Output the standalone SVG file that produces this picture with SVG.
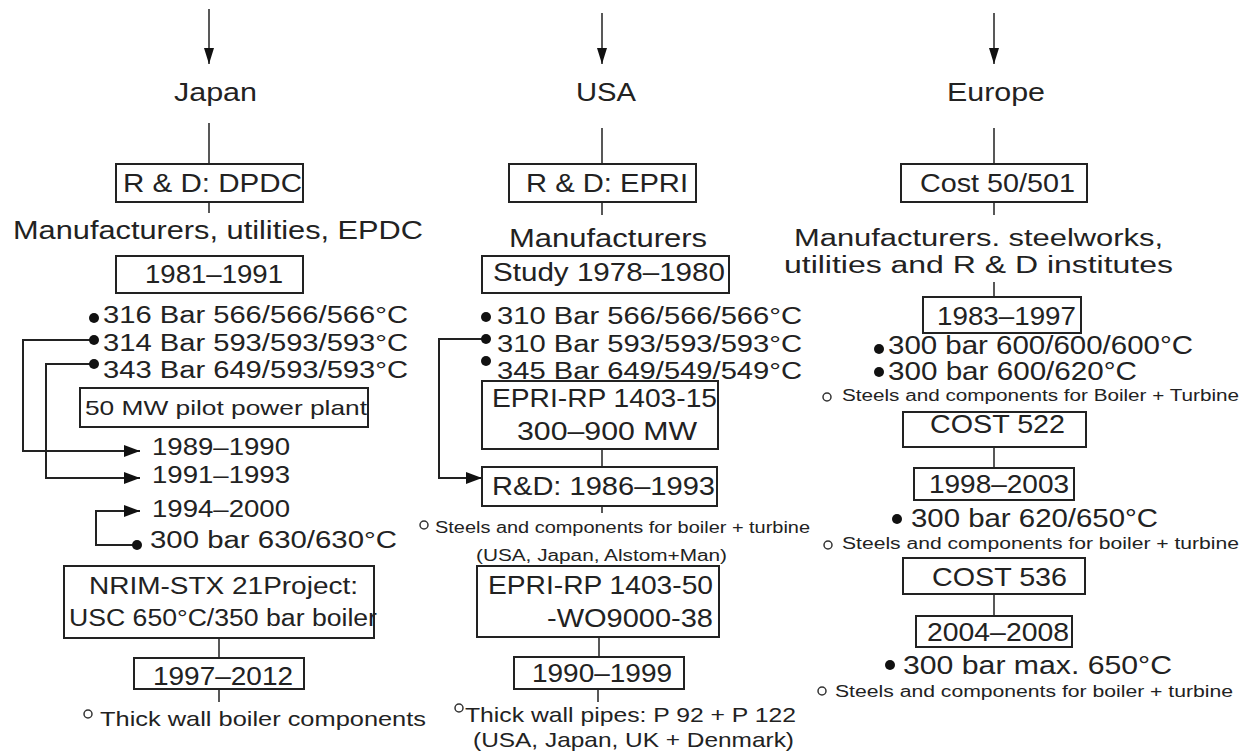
<svg xmlns="http://www.w3.org/2000/svg" width="1250" height="754" viewBox="0 0 1250 754">
<style>
text{font-family:"Liberation Sans",Arial,sans-serif;fill:#222;}
.b{fill:#fff;stroke:#222;stroke-width:2;}
.ln{fill:none;stroke:#222;stroke-width:2;}
.thin{fill:none;stroke:#222;stroke-width:1.5;}
.dot{fill:#111;}
.oc{fill:none;stroke:#333;stroke-width:1.5;}
.f25{font-size:25px;}
.f23{font-size:23px;}
.f21{font-size:21px;}
.f16{font-size:16px;}
</style>
<defs>
<marker id="ah" markerUnits="userSpaceOnUse" markerWidth="16" markerHeight="12" refX="16" refY="6" orient="auto">
<path d="M0,0 L16,6 L0,12 z" fill="#111"/>
</marker>
<marker id="ahs" markerUnits="userSpaceOnUse" markerWidth="16" markerHeight="12" refX="16" refY="6" orient="auto">
<path d="M0,1 L16,6 L0,11 z" fill="#111"/>
</marker>
</defs>

<g id="connectors">
<path class="thin" d="M209,9 V64" marker-end="url(#ahs)"/>
<path class="thin" d="M602,13 V64" marker-end="url(#ahs)"/>
<path class="thin" d="M994,13 V64" marker-end="url(#ahs)"/>
<path class="thin" d="M209,123 V164 M209,202 V213"/>
<path class="thin" d="M602,128 V164 M602,202 V215 M602,449 V467 M602,506 V513 M599,637 V657 M598,689 V702"/>
<path class="thin" d="M994,128 V164 M994,202 V215 M994,282 V297 M994,447 V468 M994,594 V616"/>
<path class="thin" d="M219,638 V658 M219,689 V702"/>
<path class="ln" d="M94,340 H23 V451 H140" marker-end="url(#ah)"/>
<path class="ln" d="M94,364 H46 V478 H140" marker-end="url(#ah)"/>
<path class="ln" d="M137,545 H96 V511 H140" marker-end="url(#ah)"/>
<path class="ln" d="M486,339 H439 V478 H482" marker-end="url(#ah)"/>
</g>

<g id="japan">
<text class="f25" x="174" y="101" textLength="83" lengthAdjust="spacingAndGlyphs">Japan</text>
</g>
<g id="usa">
<text class="f25" x="576" y="101" textLength="60" lengthAdjust="spacingAndGlyphs">USA</text>
</g>
<g id="europe">
<text class="f25" x="947" y="101" textLength="98" lengthAdjust="spacingAndGlyphs">Europe</text>
</g>

<!-- Japan column -->
<g id="jp-rd">
<rect class="b" x="116" y="164" width="187" height="38"/>
<text x="123" y="192" style="font-size:26px" textLength="179" lengthAdjust="spacingAndGlyphs">R &amp; D: DPDC</text>
</g>
<g id="jp-manuf">
<text class="f25" x="13" y="239" textLength="410" lengthAdjust="spacingAndGlyphs">Manufacturers, utilities, EPDC</text>
</g>
<g id="jp-1981">
<rect class="b" x="116" y="256" width="187" height="37"/>
<text class="f25" x="145" y="283" textLength="138" lengthAdjust="spacingAndGlyphs">1981–1991</text>
</g>
<g id="jp-bullets">
<circle class="dot" cx="94" cy="318" r="5"/>
<text class="f23" x="103" y="323" textLength="305" lengthAdjust="spacingAndGlyphs">316 Bar 566/566/566°C</text>
<circle class="dot" cx="94" cy="340" r="5"/>
<text class="f23" x="103" y="351" textLength="305" lengthAdjust="spacingAndGlyphs">314 Bar 593/593/593°C</text>
<circle class="dot" cx="94" cy="364" r="5"/>
<text class="f23" x="103" y="378" textLength="305" lengthAdjust="spacingAndGlyphs">343 Bar 649/593/593°C</text>
</g>
<g id="jp-pilot">
<rect class="b" x="80" y="388" width="288" height="39"/>
<text class="f21" x="85" y="415" textLength="282" lengthAdjust="spacingAndGlyphs">50 MW pilot power plant</text>
</g>
<g id="jp-1989">
<text class="f23" x="152" y="455" textLength="138" lengthAdjust="spacingAndGlyphs">1989–1990</text>
</g>
<g id="jp-1991">
<text class="f23" x="152" y="483" textLength="138" lengthAdjust="spacingAndGlyphs">1991–1993</text>
</g>
<g id="jp-1994">
<text class="f23" x="152" y="517" textLength="138" lengthAdjust="spacingAndGlyphs">1994–2000</text>
</g>
<g id="jp-300">
<circle class="dot" cx="137" cy="545" r="5"/>
<text class="f23" x="150" y="548" textLength="247" lengthAdjust="spacingAndGlyphs">300 bar 630/630°C</text>
</g>
<g id="jp-nrim">
<rect class="b" x="64" y="566" width="310" height="72"/>
<text class="f23" x="89" y="594" textLength="269" lengthAdjust="spacingAndGlyphs">NRIM-STX 21Project:</text>
<text class="f23" x="69" y="626" textLength="308" lengthAdjust="spacingAndGlyphs">USC 650°C/350 bar boiler</text>
</g>
<g id="jp-1997">
<rect class="b" x="134" y="658" width="170" height="31"/>
<text class="f25" x="153" y="685" textLength="140" lengthAdjust="spacingAndGlyphs">1997–2012</text>
</g>
<g id="jp-thick">
<circle class="oc" cx="88" cy="714" r="4"/>
<text class="f21" x="100" y="726" textLength="326" lengthAdjust="spacingAndGlyphs">Thick wall boiler components</text>
</g>

<!-- USA column -->
<g id="us-rd">
<rect class="b" x="509" y="164" width="187" height="38"/>
<text x="526" y="192" style="font-size:26px" textLength="162" lengthAdjust="spacingAndGlyphs">R &amp; D: EPRI</text>
</g>
<g id="us-manuf">
<text class="f25" x="509" y="247" textLength="198" lengthAdjust="spacingAndGlyphs">Manufacturers</text>
</g>
<g id="us-study">
<rect class="b" x="482" y="256" width="247" height="37"/>
<text class="f25" x="493" y="281" textLength="232" lengthAdjust="spacingAndGlyphs">Study 1978–1980</text>
</g>
<g id="us-bullets">
<circle class="dot" cx="486" cy="317" r="5"/>
<text class="f23" x="497" y="324" textLength="305" lengthAdjust="spacingAndGlyphs">310 Bar 566/566/566°C</text>
<circle class="dot" cx="486" cy="339" r="5"/>
<text class="f23" x="497" y="352" textLength="305" lengthAdjust="spacingAndGlyphs">310 Bar 593/593/593°C</text>
<circle class="dot" cx="486" cy="361" r="5"/>
<text class="f23" x="497" y="379" textLength="305" lengthAdjust="spacingAndGlyphs">345 Bar 649/549/549°C</text>
</g>
<g id="us-rp15">
<rect class="b" x="482" y="381" width="236" height="68"/>
<text class="f25" x="492" y="407" textLength="225" lengthAdjust="spacingAndGlyphs">EPRI-RP 1403-15</text>
<text class="f25" x="517" y="440" textLength="180" lengthAdjust="spacingAndGlyphs">300–900 MW</text>
</g>
<g id="us-rd1986">
<rect class="b" x="482" y="467" width="235" height="39"/>
<text class="f25" x="492" y="495" textLength="223" lengthAdjust="spacingAndGlyphs">R&amp;D: 1986–1993</text>
</g>
<g id="us-steels">
<circle class="oc" cx="424" cy="525" r="4"/>
<text class="f16" x="435" y="533" textLength="375" lengthAdjust="spacingAndGlyphs">Steels and components for boiler + turbine</text>
<text class="f16" x="476" y="561" textLength="251" lengthAdjust="spacingAndGlyphs">(USA, Japan, Alstom+Man)</text>
</g>
<g id="us-rp50">
<rect class="b" x="477" y="566" width="242" height="71"/>
<text class="f25" x="488" y="594" textLength="225" lengthAdjust="spacingAndGlyphs">EPRI-RP 1403-50</text>
<text class="f25" x="547" y="627" textLength="166" lengthAdjust="spacingAndGlyphs">-WO9000-38</text>
</g>
<g id="us-1990">
<rect class="b" x="514" y="657" width="170" height="32"/>
<text class="f25" x="532" y="682" textLength="140" lengthAdjust="spacingAndGlyphs">1990–1999</text>
</g>
<g id="us-thick">
<circle class="oc" cx="459" cy="708" r="4"/>
<text class="f21" x="465" y="722" textLength="331" lengthAdjust="spacingAndGlyphs">Thick wall pipes: P 92 + P 122</text>
<text class="f21" x="473" y="747" textLength="321" lengthAdjust="spacingAndGlyphs">(USA, Japan, UK + Denmark)</text>
</g>

<!-- Europe column -->
<g id="eu-cost50">
<rect class="b" x="901" y="164" width="186" height="38"/>
<text class="f25" x="920" y="192" textLength="155" lengthAdjust="spacingAndGlyphs">Cost 50/501</text>
</g>
<g id="eu-manuf">
<text class="f23" x="794" y="246" textLength="369" lengthAdjust="spacingAndGlyphs">Manufacturers. steelworks,</text>
<text class="f23" x="784" y="273" textLength="389" lengthAdjust="spacingAndGlyphs">utilities and R &amp; D institutes</text>
</g>
<g id="eu-1983">
<rect class="b" x="923" y="297" width="158" height="36"/>
<text class="f25" x="937" y="325" textLength="139" lengthAdjust="spacingAndGlyphs">1983–1997</text>
</g>
<g id="eu-b1">
<circle class="dot" cx="879" cy="349" r="5"/>
<text class="f25" x="888" y="354" textLength="305" lengthAdjust="spacingAndGlyphs">300 bar 600/600/600°C</text>
<circle class="dot" cx="879" cy="372" r="5"/>
<text class="f25" x="888" y="380" textLength="249" lengthAdjust="spacingAndGlyphs">300 bar 600/620°C</text>
<circle class="oc" cx="827" cy="397" r="4"/>
<text class="f16" x="842" y="401" textLength="397" lengthAdjust="spacingAndGlyphs">Steels and components for Boiler + Turbine</text>
</g>
<g id="eu-cost522">
<rect class="b" x="903" y="412" width="183" height="35"/>
<text class="f25" x="930" y="433" textLength="135" lengthAdjust="spacingAndGlyphs">COST 522</text>
</g>
<g id="eu-1998">
<rect class="b" x="914" y="468" width="160" height="32"/>
<text class="f25" x="929" y="493" textLength="140" lengthAdjust="spacingAndGlyphs">1998–2003</text>
</g>
<g id="eu-b2">
<circle class="dot" cx="897" cy="519" r="5"/>
<text class="f25" x="911" y="527" textLength="247" lengthAdjust="spacingAndGlyphs">300 bar 620/650°C</text>
<circle class="oc" cx="828" cy="545" r="4"/>
<text class="f16" x="842" y="549" textLength="397" lengthAdjust="spacingAndGlyphs">Steels and components for boiler + turbine</text>
</g>
<g id="eu-cost536">
<rect class="b" x="903" y="558" width="182" height="36"/>
<text class="f25" x="932" y="586" textLength="135" lengthAdjust="spacingAndGlyphs">COST 536</text>
</g>
<g id="eu-2004">
<rect class="b" x="916" y="616" width="156" height="31"/>
<text class="f25" x="927" y="641" textLength="142" lengthAdjust="spacingAndGlyphs">2004–2008</text>
</g>
<g id="eu-b3">
<circle class="dot" cx="890" cy="665" r="5"/>
<text class="f25" x="903" y="674" textLength="269" lengthAdjust="spacingAndGlyphs">300 bar max. 650°C</text>
<circle class="oc" cx="822" cy="691" r="4"/>
<text class="f16" x="835" y="697" textLength="398" lengthAdjust="spacingAndGlyphs">Steels and components for boiler + turbine</text>
</g>
</svg>
